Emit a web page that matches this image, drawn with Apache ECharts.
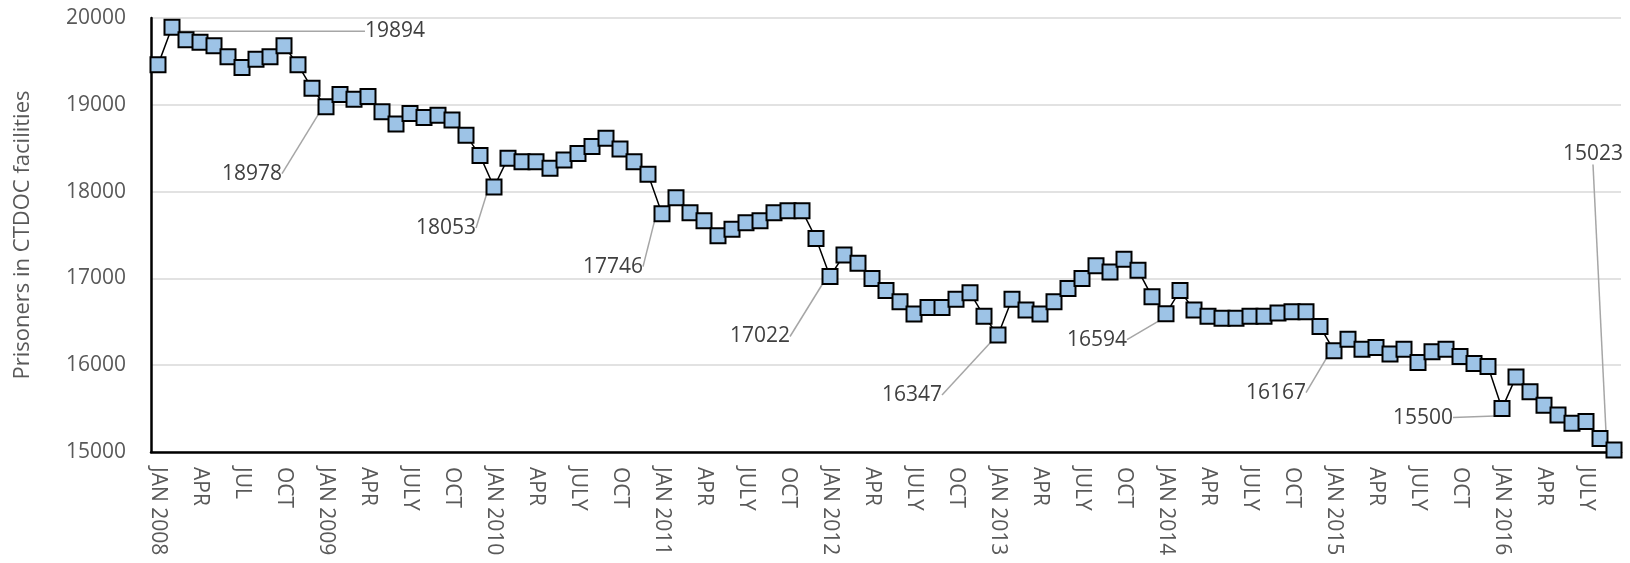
<!DOCTYPE html>
<html>
<head>
<meta charset="utf-8">
<title>Prisoners in CTDOC facilities</title>
<script src="https://cdn.jsdelivr.net/npm/echarts@6/dist/echarts.min.js"></script>
<style>
  html, body { margin: 0; padding: 0; background: #fff; }
  #main { width: 1630px; height: 563px; }
</style>
</head>
<body>
<div id="main"></div>
<script>
// monthly counts, JAN 2008 .. SEP 2016
var prisoners = [
  19460, 19894, 19750, 19720, 19680, 19555, 19430, 19525, 19555, 19680, 19460, 19190,
  18978, 19120, 19065, 19095, 18920, 18780, 18900, 18855, 18880, 18825, 18650, 18415,
  18053, 18385, 18345, 18345, 18270, 18365, 18440, 18520, 18615, 18490, 18345, 18200,
  17746, 17930, 17755, 17665, 17490, 17565, 17640, 17665, 17755, 17780, 17780, 17460,
  17022, 17270, 17175, 17000, 16860, 16730, 16590, 16665, 16665, 16760, 16835, 16565,
  16347, 16760, 16635, 16590, 16730, 16885, 17000, 17145, 17075, 17220, 17095, 16790,
  16594, 16860, 16635, 16565, 16540, 16540, 16565, 16565, 16600, 16615, 16615, 16445,
  16167, 16300, 16185, 16205, 16130, 16185, 16030, 16155, 16185, 16100, 16020, 15985,
  15500, 15865, 15695, 15540, 15425, 15330, 15350, 15155, 15023
];

// one label every third month
var tickLabels = [
  'JAN 2008', 'APR', 'JUL', 'OCT',
  'JAN 2009', 'APR', 'JULY', 'OCT',
  'JAN 2010', 'APR', 'JULY', 'OCT',
  'JAN 2011', 'APR', 'JULY', 'OCT',
  'JAN 2012', 'APR', 'JULY', 'OCT',
  'JAN 2013', 'APR', 'JULY', 'OCT',
  'JAN 2014', 'APR', 'JULY', 'OCT',
  'JAN 2015', 'APR', 'JULY', 'OCT',
  'JAN 2016', 'APR', 'JULY'
];

// months that carry a value callout
var labeledMonths = [1, 12, 24, 36, 48, 60, 72, 84, 96, 104];

// where each callout text sits relative to its point (px)
var calloutShift = {
  1: [223, 4], 12: [-74, 67], 24: [-48, 41], 36: [-49, 53], 48: [-70, 60],
  60: [-86, 60], 72: [-69, 26], 84: [-58, 42], 96: [-79, 9], 104: [-21, -296]
};

var months = [];
for (var i = 0; i < prisoners.length; i++) {
  var y = 2008 + Math.floor(i / 12);
  months.push(y + '-' + (i % 12 + 1));
}

var seriesData = prisoners.map(function (v, i) {
  if (labeledMonths.indexOf(i) < 0) return v;
  return { value: v, label: { show: true }, labelLine: { show: true } };
});

var FONT = '"Open Sans", "Noto Sans", sans-serif';

var chart = echarts.init(document.getElementById('main'));
var option = {
  animation: false,
  backgroundColor: '#fff',
  grid: { left: 151, right: 9, top: 18, bottom: 111 },
  xAxis: {
    type: 'category',
    data: months,
    boundaryGap: true,
    axisLine: { lineStyle: { color: '#000', width: 2.5 } },
    axisTick: { show: false },
    axisLabel: {
      interval: 2,
      rotate: -90,
      margin: 15,
      color: '#595959',
      fontFamily: FONT,
      fontSize: 21,
      formatter: function (val, idx) {
        return tickLabels[Math.round(idx / 3)] || '';
      }
    },
    splitLine: { show: false }
  },
  yAxis: {
    type: 'value',
    min: 15000,
    max: 20000,
    interval: 1000,
    name: 'Prisoners in CTDOC facilities',
    nameLocation: 'middle',
    nameGap: 117,
    nameTextStyle: { color: '#595959', fontFamily: FONT, fontSize: 22 },
    axisLine: { show: true, lineStyle: { color: '#000', width: 2.5 } },
    axisTick: { show: false },
    axisLabel: {
      color: '#595959', fontFamily: FONT, fontSize: 21, margin: 25,
      formatter: function (v) { return String(v); }
    },
    splitLine: { lineStyle: { color: '#d9d9d9', width: 1.5 } }
  },
  series: [{
    type: 'line',
    data: seriesData,
    symbol: 'rect',
    symbolSize: 15,
    showSymbol: true,
    showAllSymbol: true,
    clip: false,
    itemStyle: { color: '#9dc3e6', borderColor: '#000', borderWidth: 2 },
    lineStyle: { color: '#000', width: 1.5 },
    label: {
      show: false,
      position: 'inside',
      color: '#404040',
      fontFamily: FONT,
      fontSize: 21
    },
    labelLine: { show: false, lineStyle: { color: '#a6a6a6', width: 1.5 } },
    labelLayout: function (p) {
      var s = calloutShift[p.dataIndex];
      if (!s) return {};
      return { dx: s[0], dy: s[1] };
    },
    z: 3
  }]
};
chart.setOption(option);
</script>
</body>
</html>
